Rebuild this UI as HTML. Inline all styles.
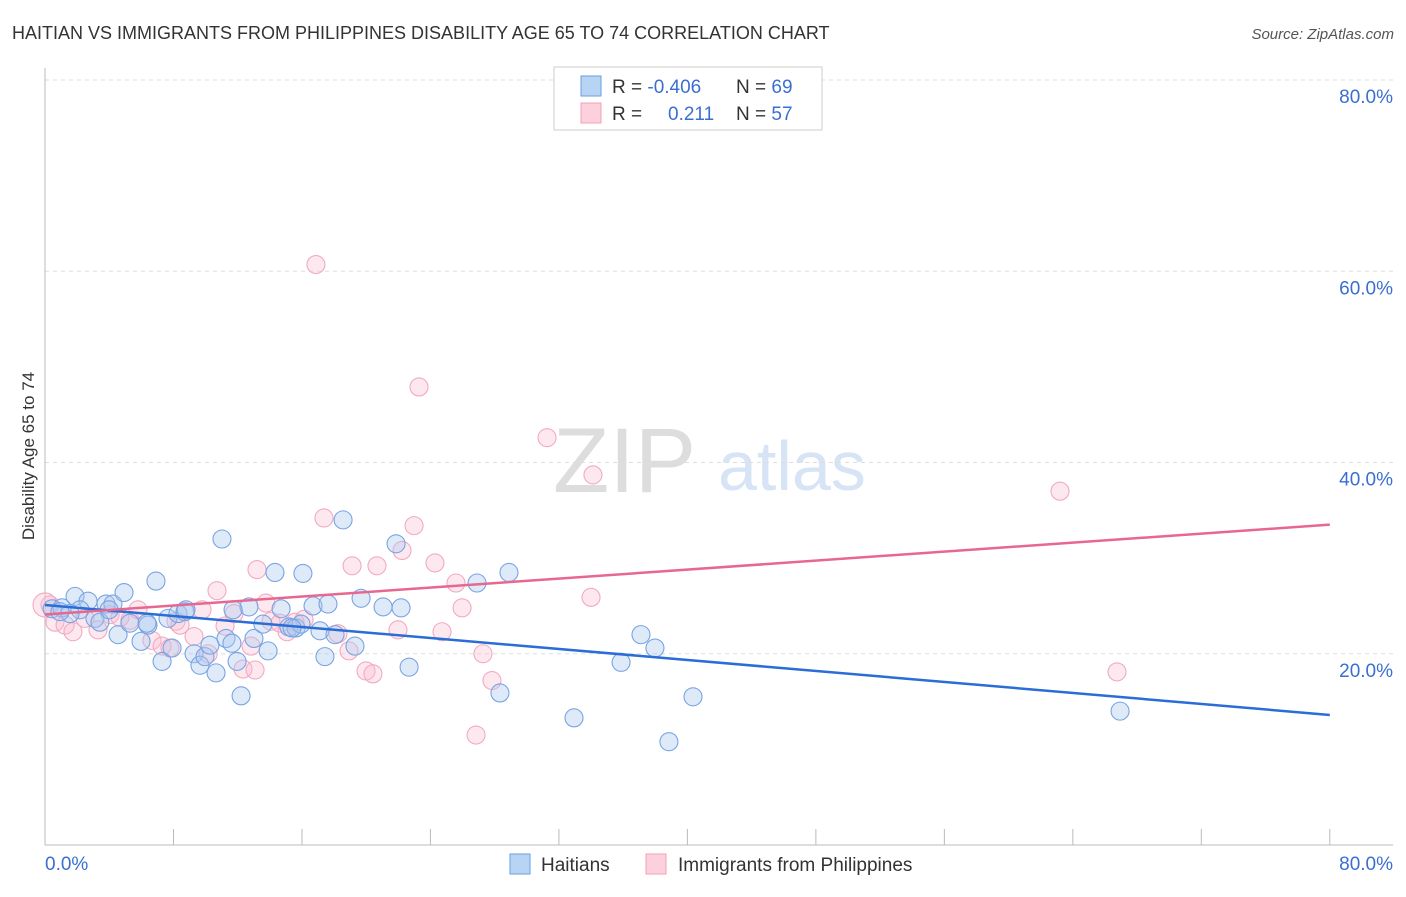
<!DOCTYPE html>
<html><head><meta charset="utf-8"><style>
body{margin:0;background:#fff;font-family:"Liberation Sans",sans-serif}
svg text{font-family:"Liberation Sans",sans-serif}
</style></head><body>
<svg width="1406" height="892">
<text x="12" y="39" font-size="18" fill="#333">HAITIAN VS IMMIGRANTS FROM PHILIPPINES DISABILITY AGE 65 TO 74 CORRELATION CHART</text>
<text x="1394" y="39" font-size="15" fill="#555" font-style="italic" text-anchor="end">Source: ZipAtlas.com</text>
<g><text x="553" y="492" font-size="92" fill="#ddd" font-family="Liberation Serif,serif">ZIP</text><text x="718" y="490" font-size="70" fill="#d6e4f5">atlas</text></g>
<g id="grid"></g>
<g id="axes"></g>
<text transform="translate(34,456) rotate(-90)" font-size="17" fill="#333" text-anchor="middle">Disability Age 65 to 74</text>
<g id="pts"></g>
<g id="lines"></g>
<g>
<rect x="554" y="67" width="268" height="63" fill="#fff" stroke="#ccc"/>
<rect x="581" y="76" width="20" height="20" fill="#b8d4f5" stroke="#6a9ee0"/>
<rect x="581" y="103" width="20" height="20" fill="#fcd0dd" stroke="#f0a0b8"/>
<text x="612" y="93" font-size="19" fill="#333">R = <tspan fill="#3a6fd1">-0.406</tspan></text>
<text x="736" y="93" font-size="19" fill="#333">N = <tspan fill="#3a6fd1">69</tspan></text>
<text x="612" y="120" font-size="19" fill="#333">R = </text><text x="668" y="120" font-size="19" fill="#3a6fd1">0.211</text>
<text x="736" y="120" font-size="19" fill="#333">N = <tspan fill="#3a6fd1">57</tspan></text>
</g>
<g>
<rect x="510" y="854" width="20" height="20" fill="#b8d4f5" stroke="#6a9ee0"/>
<text x="541" y="871" font-size="19" fill="#333">Haitians</text>
<rect x="646" y="854" width="20" height="20" fill="#fcd0dd" stroke="#f0a0b8"/>
<text x="678" y="871" font-size="19" fill="#333">Immigrants from Philippines</text>
</g>
</svg>
<script>
const blueX=[0.44,1.06,1.87,2.68,2.18,3.11,3.42,3.80,4.23,4.92,4.55,5.29,5.98,6.41,6.91,7.29,7.66,7.91,8.28,8.72,9.28,9.65,9.96,10.27,10.65,11.02,11.27,11.64,11.96,12.21,12.70,13.01,13.57,13.89,14.32,14.70,15.19,15.63,16.06,15.94,16.69,17.12,17.43,17.62,18.06,18.56,19.30,19.68,21.05,21.86,22.17,22.67,26.90,28.33,28.89,32.94,35.87,37.11,37.98,38.85,40.35,66.94,6.35,11.71,3.99,1.56,8.78,15.38,0.93];
const blueY=[24.7,24.8,26.0,25.5,24.6,23.7,23.3,25.2,25.2,26.4,22.0,23.2,21.3,23.0,27.6,19.2,23.7,20.6,24.2,24.4,20.0,18.8,19.7,20.9,18.0,32.0,21.6,21.1,19.2,15.6,24.9,21.6,23.1,20.3,28.5,24.7,22.8,22.7,28.4,23.1,25.0,22.4,19.7,25.2,22.0,34.0,20.8,25.8,24.9,31.5,24.8,18.6,27.4,15.9,28.5,13.3,19.1,22.0,20.6,10.8,15.5,14.0,23.2,24.6,24.6,24.2,24.6,22.7,24.4];
const pinkX=[0.31,0.62,1.25,1.74,2.49,3.30,4.05,4.67,5.29,5.79,6.66,7.29,7.78,8.16,8.41,9.28,9.78,10.16,10.71,11.21,11.77,12.33,12.83,13.20,13.76,14.07,14.63,15.07,15.57,16.13,16.87,17.37,18.24,18.93,19.12,19.99,20.42,20.67,21.98,22.23,22.98,23.29,24.28,24.72,25.59,25.97,27.27,27.83,26.84,31.26,34.12,34.00,63.20,66.75,0.0,13.08];
const pinkY=[25.1,23.3,23.0,22.3,23.7,22.5,24.1,23.8,23.5,24.6,21.4,20.8,20.6,23.4,23.0,21.8,24.6,20.0,26.6,22.9,24.2,18.4,20.8,28.8,25.3,23.4,23.2,22.3,23.3,23.6,60.7,34.2,22.1,20.3,29.2,18.2,17.9,29.2,22.5,30.8,33.4,47.9,29.5,22.3,27.4,24.8,20.0,17.2,11.5,42.6,38.7,25.9,37.0,18.1,25.1,18.3];
const blueLine=[25.1,13.6];
const pinkLine=[24.1,33.5];
const yTicks=[20,40,60,80];
const xTicks=[0,8,16,24,32,40,48,56,64,72,80];
const NS="http://www.w3.org/2000/svg";
const sx=v=>45+v*16.06, sy=v=>845-v*9.5625;
function mk(t,a,p){const e=document.createElementNS(NS,t);for(const k in a)e.setAttribute(k,a[k]);p.appendChild(e);return e;}
const grid=document.getElementById('grid'),axes=document.getElementById('axes');
yTicks.forEach(v=>{
 const l=mk('line',{x1:45,x2:1393,y1:sy(v),y2:sy(v),stroke:'#ddd','stroke-dasharray':'4,4'},grid);
 
 
 const t=mk('text',{x:1393,y:sy(v)+23,'font-size':19,fill:'#3a6fd1','text-anchor':'end'},axes);
 t.textContent=v.toFixed(1)+'%';
 
 
});
mk('line',{x1:45,x2:45,y1:68,y2:845,stroke:'#bbb'},axes);
mk('line',{x1:45,x2:1393,y1:845,y2:845,stroke:'#bbb'},axes);
xTicks.forEach(v=>{const l=mk('line',{x1:sx(v),x2:sx(v),y1:829,y2:845,stroke:'#bbb'},axes);
 
 });
let t0=mk('text',{x:45,y:870,'font-size':19,fill:'#3a6fd1'},axes);t0.textContent='0.0%';


let t1=mk('text',{x:1393,y:870,'font-size':19,fill:'#3a6fd1','text-anchor':'end'},axes);t1.textContent='80.0%';


const pts=document.getElementById('pts');
pinkX.forEach((x,i)=>{const c=mk('circle',{cx:sx(x),cy:sy(pinkY[i]),r:i==54?12:9,fill:'rgba(248,190,208,0.35)',stroke:'#f2aac0','stroke-width':1.1},pts);
 
 });
blueX.forEach((x,i)=>{const c=mk('circle',{cx:sx(x),cy:sy(blueY[i]),r:9,fill:'rgba(170,200,240,0.38)',stroke:'#78a4e4','stroke-width':1.1},pts);
 
 });
const lines=document.getElementById('lines');
const bl=mk('line',{x1:sx(0),y1:sy(blueLine[0]),x2:sx(80),y2:sy(blueLine[1]),stroke:'#2a6dd6','stroke-width':2.5},lines);


const pl=mk('line',{x1:sx(0),y1:sy(pinkLine[0]),x2:sx(80),y2:sy(pinkLine[1]),stroke:'#e8678f','stroke-width':2.5},lines);


</script>
</body></html>
